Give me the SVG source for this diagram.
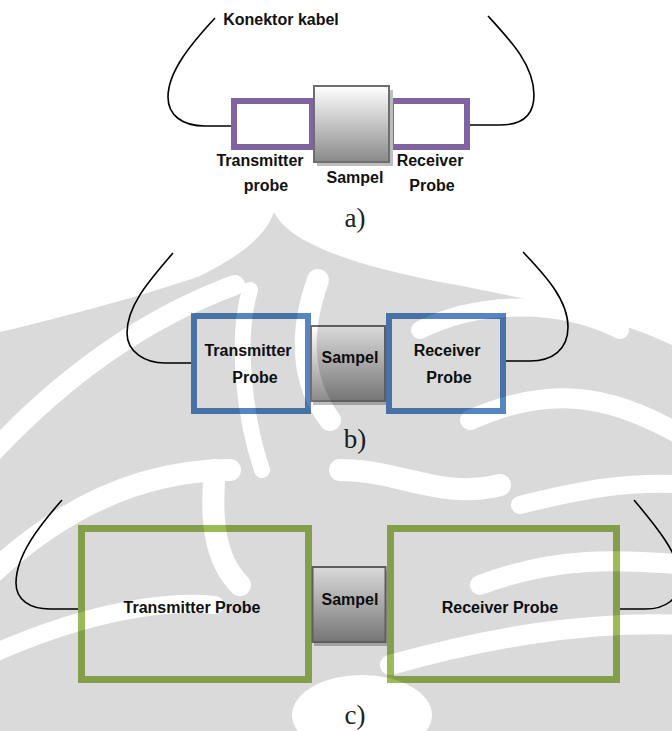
<svg xmlns="http://www.w3.org/2000/svg" width="672" height="731" viewBox="0 0 672 731">
<defs>
<style>
.lbl{font-family:"Liberation Sans",Arial,sans-serif;font-weight:bold;font-size:16px;fill:#111;text-anchor:middle}
.cap{font-family:"Liberation Serif","Times New Roman",serif;font-size:27px;fill:#222;text-anchor:middle}
.cable{fill:none;stroke:#000;stroke-width:1.6}
.pa{fill:#fff;stroke:#8064A2;stroke-width:6}
.pb{fill:#fff;stroke:#5585c2;stroke-width:6}
.pc{fill:#fff;stroke:#9BBB59;stroke-width:7}
.smp{fill:url(#sg);stroke:#6e6e6e;stroke-width:2}
.shd{fill:#bdbdbd}
</style>
<linearGradient id="sg" x1="0" y1="0" x2="0" y2="1">
<stop offset="0" stop-color="#ffffff"/>
<stop offset="1" stop-color="#8a8a8a"/>
</linearGradient>
<mask id="wm" maskUnits="userSpaceOnUse" x="0" y="0" width="672" height="731">
<rect width="672" height="731" fill="#000"/>
<path d="M274,212 C266,236 240,256 200,276 C130,300 50,320 0,332 L0,731 L672,731 L672,345 C620,320 540,300 440,282 C360,266 290,245 274,212 Z" fill="#fff"/>
<g fill="none" stroke="#000" stroke-linecap="round">
<path d="M-10,455 C60,380 140,320 235,285" stroke-width="20"/>
<path d="M-10,575 C70,500 150,470 230,470" stroke-width="22"/>
<path d="M-10,655 C90,610 170,600 215,605" stroke-width="18"/>
<path d="M250,290 C235,340 245,420 262,470" stroke-width="16"/>
<path d="M318,280 C300,330 300,380 330,420" stroke-width="22"/>
<path d="M215,470 C210,520 215,560 240,585" stroke-width="22"/>
<path d="M340,470 C400,470 440,500 500,485" stroke-width="22"/>
<path d="M420,330 C480,300 560,300 620,330" stroke-width="18"/>
<path d="M470,420 C560,380 620,400 690,440" stroke-width="20"/>
<path d="M520,505 C580,490 630,480 690,485" stroke-width="18"/>
<path d="M480,585 C560,555 620,560 690,565" stroke-width="20"/>
<path d="M390,665 C480,640 580,620 690,625" stroke-width="20"/>
</g>
<ellipse cx="362" cy="715" rx="70" ry="40" fill="#000"/>
</mask>
</defs>
<rect width="672" height="731" fill="#fff"/>

<g id="connectors">
<path class="cable" d="M215,18 C190,45 168,72 168,97 C168,115 182,126 205,126 L234,126"/>
<path class="cable" d="M488,16 C510,40 534,65 534,95 C534,115 522,125 500,125 L468,125"/>
<path class="cable" d="M173,253 C150,280 127,305 127,333 C127,352 145,363 165,363 L195,363"/>
<path class="cable" d="M523,252 C545,275 568,300 568,327 C568,350 552,361 530,361 L502,361"/>
<path class="cable" d="M62,500 C40,525 16,555 16,583 C16,600 30,609 50,609 L82,609"/>
<path class="cable" d="M634,500 C655,525 680,555 680,578 C680,600 665,609 645,609 L616,609"/>
</g>

<g id="a-transmitter"><rect class="pa" x="234" y="101" width="78" height="46"/></g>
<g id="a-receiver"><rect class="pa" x="391" y="101" width="76" height="46"/></g>
<g id="a-sampel">
<rect class="shd" x="317" y="90" width="76" height="76"/>
<rect class="smp" x="314" y="86" width="75" height="76"/>
</g>
<g id="a-labels">
<text class="lbl" x="281" y="25">Konektor kabel</text>
<text class="lbl" x="260" y="166">Transmitter</text>
<text class="lbl" x="266" y="191">probe</text>
<text class="lbl" x="355" y="183">Sampel</text>
<text class="lbl" x="430" y="166">Receiver</text>
<text class="lbl" x="432" y="191">Probe</text>
<text class="cap" x="355" y="227">a)</text>
</g>

<g id="b-transmitter">
<rect class="pb" x="194" y="316" width="114" height="95"/>
<text class="lbl" x="248" y="356">Transmitter</text>
<text class="lbl" x="255" y="383">Probe</text>
</g>
<g id="b-sampel">
<rect class="shd" x="313" y="330" width="74" height="75"/>
<rect class="smp" x="311" y="326" width="74" height="75"/>
<text class="lbl" x="350" y="363">Sampel</text>
</g>
<g id="b-receiver">
<rect class="pb" x="389" y="316" width="114" height="95"/>
<text class="lbl" x="447" y="356">Receiver</text>
<text class="lbl" x="449" y="383">Probe</text>
</g>
<text class="cap" x="355" y="448">b)</text>

<g id="c-transmitter">
<rect class="pc" x="81.5" y="528.5" width="227" height="151"/>
<text class="lbl" x="192" y="613">Transmitter Probe</text>
</g>
<g id="c-sampel">
<rect class="shd" x="314" y="571" width="73" height="75"/>
<rect class="smp" x="312.5" y="567" width="73" height="75"/>
<text class="lbl" x="350" y="605">Sampel</text>
</g>
<g id="c-receiver">
<rect class="pc" x="390.5" y="528.5" width="226" height="151"/>
<text class="lbl" x="500" y="613">Receiver Probe</text>
</g>
<text class="cap" x="355" y="724">c)</text>

<g id="watermark" opacity="0.14">
<rect width="672" height="731" fill="#000" mask="url(#wm)"/>
</g>
</svg>
